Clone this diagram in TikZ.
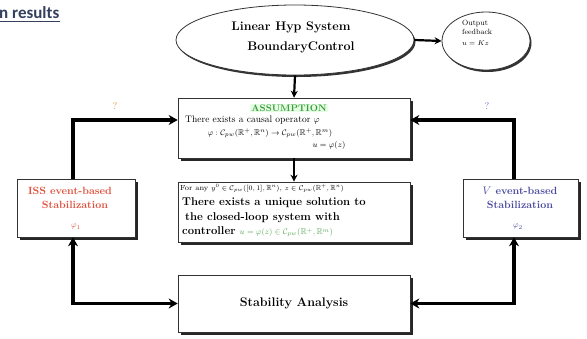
\documentclass[tikz,border=0pt]{standalone}
\usepackage{amssymb}
\usepackage{fontspec}
\newfontfamily\titlefont{Carlito}
\usetikzlibrary{shapes.geometric,shadows,arrows.meta}
\definecolor{titleblue}{HTML}{34405E}
\definecolor{asmgreen}{HTML}{3C9A3C}
\definecolor{mathgreen}{HTML}{5AA85A}
\definecolor{issred}{HTML}{E0503C}
\definecolor{lyapblue}{HTML}{4A4AA0}
\definecolor{qorange}{HTML}{E0903A}
\definecolor{qblue}{HTML}{6A6AD0}
\newcommand{\Cpw}{\mathcal{C}_{pw}}
\newcommand{\R}{\mathbb{R}}
\begin{document}
\begin{tikzpicture}[x=1pt,y=-1pt,
  shade box/.style={draw=black!80, line width=0.6pt, fill=white, rectangle,
    drop shadow={shadow xshift=2.5pt, shadow yshift=-2.5pt, fill=black!85, opacity=1}},
  oval/.style={ellipse, draw=black!80, line width=0.8pt, fill=white, inner sep=0pt,
    drop shadow={shadow xshift=1.5pt, shadow yshift=-2pt, fill=black!80, opacity=1}},
  link/.style={line width=3.5pt, -{Stealth[length=9pt,width=10pt]}},
  duallink/.style={line width=3.5pt, {Stealth[length=9pt,width=10pt]}-{Stealth[length=9pt,width=10pt]}},
  thinlink/.style={line width=2.2pt, -{Stealth[length=7pt,width=7pt]}},
  lbl/.style={inner sep=0pt},
  bigbold/.style={font=\bfseries\fontsize{12.5}{14}\selectfont},
  boxbold/.style={font=\bfseries\fontsize{11.3}{13}\selectfont},
  sidebold/.style={font=\bfseries\fontsize{10.5}{12}\selectfont},
  small/.style={font=\fontsize{8.5}{10}\selectfont},
]
\useasboundingbox (0,0) rectangle (587,338);

% heading
\node[lbl, anchor=base west, text=titleblue, font=\titlefont\bfseries\fontsize{17}{20}\selectfont] (title) at (-1,18) {n results};
\draw[titleblue, line width=1pt] ([yshift=-3pt]title.base west) -- ([yshift=-3pt]title.base east);

% system and output feedback
\node[oval, minimum width=238pt, minimum height=70pt] (sys) at (295,40) {};
\node[lbl, bigbold] (sysA) at (291,27) {Linear Hyp System};
\node[lbl, bigbold] (sysB) at (301,47) {BoundaryControl};

\node[oval, minimum width=88pt, minimum height=58pt] (out) at (486,41) {};
\node[lbl, anchor=north west, align=left, font=\fontsize{7.5}{9}\selectfont] (outT) at (462,20)
  {Output\\feedback\\[2pt]$u=Kz$};

% assumption
\node[shade box, minimum width=232pt, minimum height=60pt] (asm) at (294,128) {};
\node[lbl, fill=green!10, inner sep=1pt, text=asmgreen, font=\bfseries\fontsize{9.5}{11}\selectfont] (asmH) at (289,108) {ASSUMPTION};
\node[lbl, anchor=west, font=\fontsize{9.5}{11}\selectfont] (asm1) at (185,120) {There exists a causal operator $\varphi$};
\node[lbl, small] (asm2) at (270,133) {$\varphi:\Cpw(\R^+,\R^n)\rightarrow\Cpw(\R^+,\R^m)$};
\node[lbl, small] (asm3) at (329,145) {$u=\varphi(z)$};

% existence of solutions
\node[shade box, minimum width=232pt, minimum height=60pt] (sol) at (294,212) {};
\node[lbl, anchor=west, font=\fontsize{7.4}{9}\selectfont] (sol0) at (180,188)
  {For any $y^0\in\Cpw([0,1],\R^n)$, $z\in\Cpw(\R^+,\R^n)$};
\node[lbl, anchor=west, boxbold] (sol1) at (182,203) {There exists a unique solution to};
\node[lbl, anchor=west, boxbold] (sol2) at (185,218) {the closed-loop system with};
\node[lbl, anchor=west, boxbold] (sol3) at (182,232)
  {controller \textcolor{mathgreen}{\mdseries\fontsize{8.5}{10}\selectfont $u=\varphi(z)\in\Cpw(\R^+,\R^m)$}};

% stability analysis
\node[shade box, minimum width=232pt, minimum height=57pt, font=\bfseries\fontsize{12.5}{14}\selectfont] (stab) at (294,303.5) {Stability Analysis};

% ISS based design
\node[shade box, minimum width=118pt, minimum height=58pt] (iss) at (76,208) {};
\node[lbl, sidebold, text=issred] (iss1) at (70,191) {ISS event-based};
\node[lbl, sidebold, text=issred] (iss2) at (75,205) {Stabilization};
\node[lbl, small, text=issred] (iss3) at (76,227) {$\varphi_1$};

% Lyapunov based design
\node[shade box, minimum width=115pt, minimum height=58pt] (lyap) at (520.5,208) {};
\node[lbl, sidebold, text=lyapblue] (lyap1) at (520,191) {$V$ event-based};
\node[lbl, sidebold, text=lyapblue] (lyap2) at (520,205) {Stabilization};
\node[lbl, small, text=lyapblue] (lyap3) at (518,227) {$\varphi_2$};

% question marks
\node[lbl, text=qorange, font=\fontsize{10}{12}\selectfont] (q1) at (115,106) {?};
\node[lbl, text=qblue, font=\fontsize{10}{12}\selectfont] (q2) at (487,106) {?};

% connectors
\draw[thinlink] (sys.south) -- (asm.north);
\draw[thinlink] (sys.east) -- (out.west);
\draw[thinlink] (asm.south) -- (sol.north);
\draw[link] ([xshift=-3pt]iss.north) |- ([yshift=8pt]asm.west);
\draw[link] ([xshift=-6.5pt]lyap.north) |- ([yshift=8pt]asm.east);
\draw[duallink] ([xshift=-3pt]iss.south) |- (stab.west);
\draw[duallink] ([xshift=-6.5pt]lyap.south) |- (stab.east);
\end{tikzpicture}
\end{document}
